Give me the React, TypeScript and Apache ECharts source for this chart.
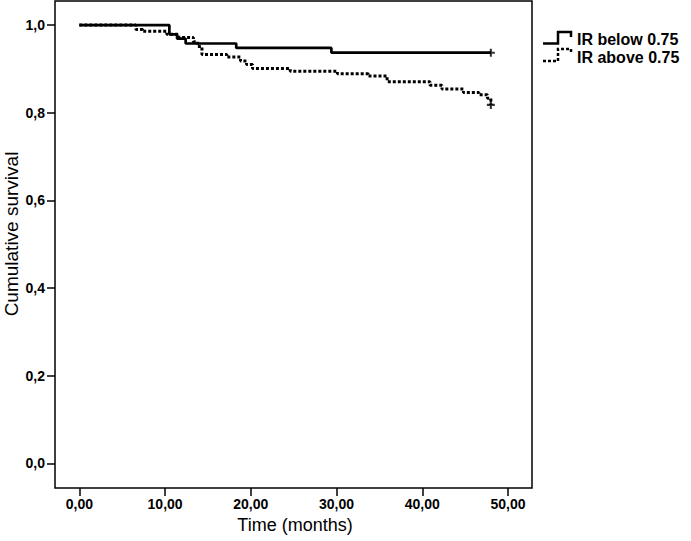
import React, { useEffect, useRef } from "react";
import * as echarts from "echarts";

const belowTimes = [0, 10.5, 11.4, 12.4, 18.3, 29.4, 48.0];
const belowSurv = [1.0, 0.979, 0.969, 0.958, 0.948, 0.937, 0.937];

const aboveTimes = [0, 6.6, 7.4, 10.2, 11.6, 13.3, 13.8, 14.3, 17.2, 18.8, 19.5, 20.2, 24.6, 30.1, 33.7, 35.9, 40.9, 42.3, 44.8, 46.6, 47.6, 48.0];
const aboveSurv = [1.0, 0.99, 0.986, 0.979, 0.972, 0.962, 0.951, 0.933, 0.927, 0.918, 0.91, 0.901, 0.895, 0.889, 0.884, 0.871, 0.863, 0.854, 0.846, 0.841, 0.833, 0.818];

const censorBelow = [[48.0, 0.937]];
const censorAbove = [[48.0, 0.818]];

const xTicks = [0, 10, 20, 30, 40, 50];
const yTicks = [0, 0.2, 0.4, 0.6, 0.8, 1.0];

const seriesNames = ["IR below 0.75", "IR above 0.75"];

const FONT = "'Liberation Sans', Arial, Helvetica, sans-serif";
const CROSS = "path://M2.6 0H4.4V2.6H7V4.4H4.4V7H2.6V4.4H0V2.6H2.6Z";

const GRID = { left: 55, top: 1, right: 159, bottom: 53 };
const W = 691;
const H = 541;

export default function App() {
  const ref = useRef<HTMLDivElement>(null);
  useEffect(() => {
    if (!ref.current) return;
    const chart = echarts.init(ref.current, null, { renderer: "svg" });
    const zip = (xs: number[], ys: number[]) => xs.map((x, i) => [x, ys[i]]);
    const tickStyle = { color: "#000", width: 1.5 };
    const option: any = {
      animation: false,
      backgroundColor: "#fff",
      grid: { ...GRID, show: false },
      xAxis: {
        type: "value",
        min: -2.84,
        max: 52.8,
        axisLine: { show: false, onZero: false },
        splitLine: { show: false },
        axisTick: { show: true, inside: false, length: 8, customValues: xTicks, lineStyle: tickStyle },
        axisLabel: {
          customValues: xTicks,
          margin: 9,
          color: "#000",
          fontFamily: FONT,
          fontWeight: "bold",
          fontSize: 14,
          formatter: (v: number) => v.toFixed(2).replace(".", ","),
        },
      },
      yAxis: {
        type: "value",
        min: -0.056,
        max: 1.055,
        axisLine: { show: false, onZero: false },
        splitLine: { show: false },
        axisTick: { show: true, inside: false, length: 8, customValues: yTicks, lineStyle: tickStyle },
        axisLabel: {
          customValues: yTicks,
          margin: 10,
          color: "#000",
          fontFamily: FONT,
          fontWeight: "bold",
          fontSize: 14,
          formatter: (v: number) => v.toFixed(1).replace(".", ","),
        },
      },
      series: [
        {
          name: seriesNames[0],
          type: "line",
          step: "end",
          showSymbol: false,
          data: zip(belowTimes, belowSurv),
          lineStyle: { color: "#000", width: 2.7 },
        },
        {
          name: seriesNames[1],
          type: "line",
          step: "end",
          showSymbol: false,
          data: zip(aboveTimes, aboveSurv),
          lineStyle: { color: "#000", width: 3, type: [3, 2] },
        },
        {
          type: "scatter",
          symbol: CROSS,
          symbolSize: 8,
          data: censorBelow,
          itemStyle: { color: "#000" },
        },
        {
          type: "scatter",
          symbol: CROSS,
          symbolSize: 8,
          data: censorAbove,
          itemStyle: { color: "#000" },
        },
      ],
      graphic: [
        {
          type: "rect",
          shape: { x: GRID.left, y: GRID.top, width: W - GRID.left - GRID.right, height: H - GRID.top - GRID.bottom },
          style: { stroke: "#000", lineWidth: 1.5, fill: null },
          silent: true,
          z: 10,
        },
        {
          type: "text",
          x: 295,
          y: 525,
          style: { text: "Time (months)", font: `18px ${FONT}`, fill: "#000", textAlign: "center", textVerticalAlign: "middle" },
        },
        {
          type: "text",
          x: 11,
          y: 234,
          rotation: Math.PI / 2,
          style: { text: "Cumulative survival", font: `19px ${FONT}`, fill: "#000", textAlign: "center", textVerticalAlign: "middle" },
        },
        {
          type: "polyline",
          shape: { points: [[543, 43.5], [558, 43.5], [558, 32], [571, 32], [571, 37]] },
          style: { stroke: "#000", lineWidth: 2.5, fill: null },
        },
        {
          type: "text",
          x: 577,
          y: 39,
          style: { text: seriesNames[0], font: `bold 16px ${FONT}`, fill: "#000", textAlign: "left", textVerticalAlign: "middle" },
        },
        {
          type: "polyline",
          shape: { points: [[543, 61], [558, 61], [558, 49], [571, 49], [571, 54]] },
          style: { stroke: "#000", lineWidth: 2.5, fill: null, lineDash: [3, 2] },
        },
        {
          type: "text",
          x: 577,
          y: 57,
          style: { text: seriesNames[1], font: `bold 16px ${FONT}`, fill: "#000", textAlign: "left", textVerticalAlign: "middle" },
        },
      ],
    };
    chart.setOption(option);
    return () => chart.dispose();
  }, []);
  return <div ref={ref} style={{ position: "absolute", left: 0, top: 0, width: W, height: H }} />;
}
